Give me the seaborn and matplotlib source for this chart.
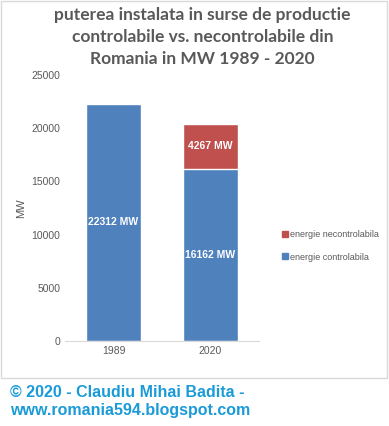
import pandas as pd
import seaborn as sns
import matplotlib.pyplot as plt
from matplotlib.patches import Rectangle
from matplotlib.lines import Line2D

# Data
years = ["1989", "2020"]
controlabila = [22312, 16162]
necontrolabila = [0, 4267]

df = pd.DataFrame({"an": years, "controlabila": controlabila, "necontrolabila": necontrolabila})
df["total"] = df["controlabila"] + df["necontrolabila"]

blue = "#4F81BD"
red = "#C0504D"
gray = "#595959"

sns.set_style("white")
plt.rcParams["font.family"] = ["Liberation Sans", "DejaVu Sans"]

fig = plt.figure(figsize=(3.89, 4.26), dpi=100)
ax = fig.add_axes([0.167, 0.1995, 0.499, 0.6245])

# stacked bars: draw totals in red, then the controllable part in blue on top
sns.barplot(data=df, x="an", y="total", color=red, width=0.57, saturation=1, ax=ax)
sns.barplot(data=df, x="an", y="controlabila", color=blue, width=0.57, saturation=1, ax=ax)

for i, row in df.iterrows():
    ax.text(i, row["controlabila"] / 2, f"{row['controlabila']} MW", color="white",
            ha="center", va="center", fontsize=7.5, fontweight="bold")
    if row["necontrolabila"] > 0:
        ax.text(i, row["controlabila"] + row["necontrolabila"] / 2, f"{row['necontrolabila']} MW",
                color="white", ha="center", va="center", fontsize=7.5, fontweight="bold")

ax.set_ylim(0, 25000)
ax.set_yticks(range(0, 25001, 5000))
ax.set_xlim(-0.5, 1.5)
ax.set_xlabel("")
ax.set_ylabel("MW", color=gray, fontsize=8)
ax.tick_params(axis="both", colors=gray, labelsize=7.5, length=0)
for s in ["top", "right", "left"]:
    ax.spines[s].set_visible(False)
ax.spines["bottom"].set_color("#D9D9D9")

fig.text(0.52, 0.984, "puterea instalata in surse de productie\ncontrolabile vs. necontrolabile din\nRomania in MW 1989 - 2020",
         ha="center", va="top", fontsize=12.5, fontweight="bold", color=gray,
         family=["Lato", "DejaVu Sans"], linespacing=1.45)

handles = [Line2D([], [], marker="s", color=red, linestyle="", markersize=5),
           Line2D([], [], marker="s", color=blue, linestyle="", markersize=5)]
fig.legend(handles, ["energie necontrolabila", "energie controlabila"], loc="center left",
           bbox_to_anchor=(0.70, 0.423), frameon=False, fontsize=6.5, labelcolor=gray,
           handletextpad=0.1, labelspacing=1.5, handlelength=1.0)

# chart border
fig.patches.append(Rectangle((1 / 389, 1 - 378 / 426), 386 / 389, 377 / 426, transform=fig.transFigure,
                             fill=False, edgecolor="#D9D9D9", linewidth=1))

fig.text(0.026, 0.058, "© 2020 - Claudiu Mihai Badita -\nwww.romania594.blogspot.com", ha="left", va="center",
         fontsize=11.5, fontweight="bold", color="#1A9BD7", linespacing=1.25)

fig.savefig("out.png", dpi=100)
